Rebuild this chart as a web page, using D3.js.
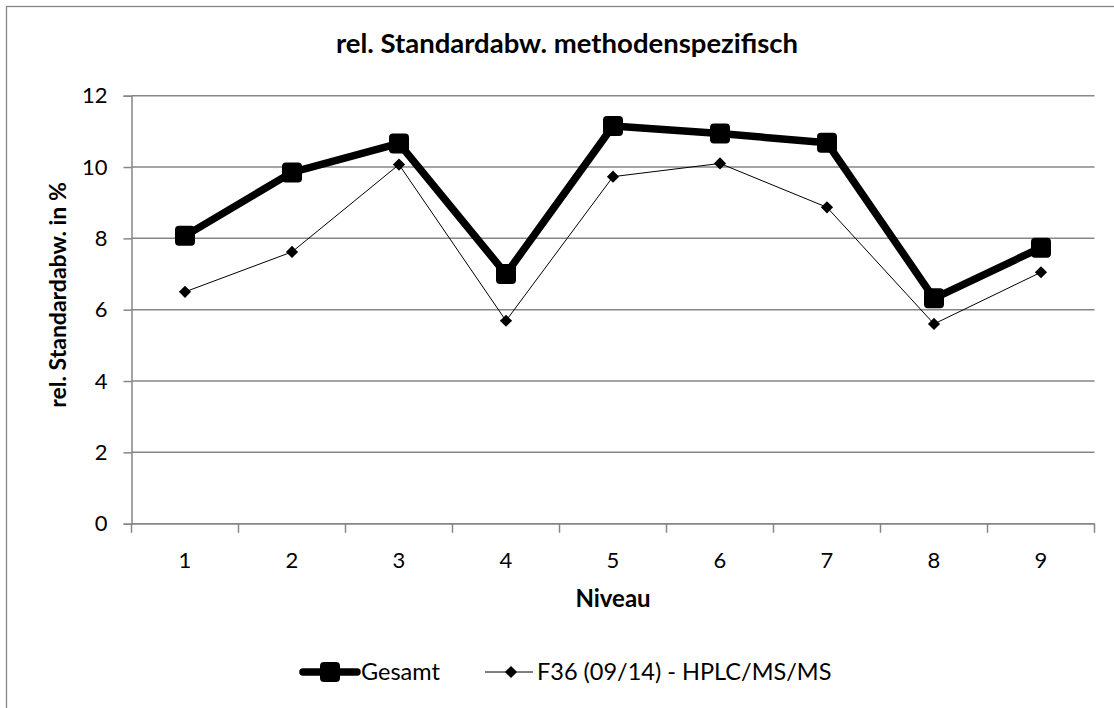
<!DOCTYPE html>
<html>
<head>
<meta charset="utf-8">
<script src="https://cdn.jsdelivr.net/npm/d3@7"></script>
<style>
  body { margin: 0; background: #fff; }
  svg { display: block; font-family: Lato, "Open Sans", sans-serif; }
</style>
</head>
<body>
<div id="chart"></div>
<script>
const levels = ["1", "2", "3", "4", "5", "6", "7", "8", "9"];
const gesamt = [8.07, 9.85, 10.66, 7.0, 11.15, 10.94, 10.68, 6.32, 7.74];
const f36 = [6.5, 7.62, 10.07, 5.69, 9.73, 10.1, 8.87, 5.6, 7.05];
const yTicks = [0, 2, 4, 6, 8, 10, 12];
const seriesNames = ["Gesamt", "F36 (09/14) - HPLC/MS/MS"];

const width = 1114;
const height = 708;
const margin = { top: 95.7, bottom: 184.3, left: 131.5, right: 19.5 };
const gridColor = "#868686";

const svg = d3
  .select("#chart")
  .append("svg")
  .attr("width", width)
  .attr("height", height);

// outer chart frame (runs off the right/bottom edge like the screenshot)
svg
  .append("rect")
  .attr("x", 6.5)
  .attr("y", 6.5)
  .attr("width", 1130)
  .attr("height", 720)
  .attr("fill", "#fff")
  .attr("stroke", gridColor)
  .attr("stroke-width", 1.3);

const x = d3
  .scaleBand()
  .domain(levels)
  .range([margin.left, width - margin.right]);

const y = d3
  .scaleLinear()
  .domain([0, 12])
  .range([height - margin.bottom, margin.top]);

// horizontal gridlines
svg
  .append("g")
  .selectAll("line")
  .data(yTicks)
  .join("line")
  .attr("x1", margin.left)
  .attr("x2", width - margin.right)
  .attr("y1", (d) => y(d))
  .attr("y2", (d) => y(d))
  .attr("stroke", gridColor)
  .attr("stroke-width", 1.5);

// y axis
svg
  .append("g")
  .attr("transform", `translate(${margin.left},0)`)
  .call(d3.axisLeft(y).tickValues(yTicks).tickSize(8).tickPadding(16))
  .call((g) => g.select(".domain").attr("stroke", gridColor).attr("stroke-width", 1.5))
  .call((g) => g.selectAll(".tick line").attr("stroke", gridColor).attr("stroke-width", 1.5))
  .call((g) =>
    g.selectAll(".tick text").attr("font-size", 22).attr("fill", "#000").attr("font-family", "Lato")
  );

// x axis: ticks sit between categories
const xAxisG = svg
  .append("g")
  .attr("transform", `translate(0,${y(0)})`);

xAxisG
  .append("line")
  .attr("x1", margin.left)
  .attr("x2", width - margin.right)
  .attr("stroke", gridColor)
  .attr("stroke-width", 1.5);

const boundaries = levels.map((d) => x(d)).concat([x(levels[levels.length - 1]) + x.bandwidth()]);
xAxisG
  .selectAll(".xt")
  .data(boundaries)
  .join("line")
  .attr("class", "xt")
  .attr("x1", (d) => d)
  .attr("x2", (d) => d)
  .attr("y1", 0)
  .attr("y2", 9)
  .attr("stroke", gridColor)
  .attr("stroke-width", 1.5);

xAxisG
  .selectAll(".xl")
  .data(levels)
  .join("text")
  .attr("class", "xl")
  .attr("x", (d) => x(d) + x.bandwidth() / 2)
  .attr("y", 44)
  .attr("text-anchor", "middle")
  .attr("font-size", 22)
  .text((d) => d);

// titles
svg
  .append("text")
  .attr("x", 567)
  .attr("y", 53)
  .attr("text-anchor", "middle")
  .attr("font-size", 27.5)
  .attr("font-weight", "bold")
  .text("rel. Standardabw. methodenspezifisch");

svg
  .append("text")
  .attr("x", (margin.left + width - margin.right) / 2)
  .attr("y", 607)
  .attr("text-anchor", "middle")
  .attr("font-size", 24)
  .attr("font-weight", "bold")
  .text("Niveau");

svg
  .append("text")
  .attr("transform", "translate(66,295) rotate(-90)")
  .attr("text-anchor", "middle")
  .attr("font-size", 23)
  .attr("font-weight", "bold")
  .text("rel. Standardabw. in %");

const cx = (d, i) => x(levels[i]) + x.bandwidth() / 2;
const line = d3
  .line()
  .x((d, i) => x(levels[i]) + x.bandwidth() / 2)
  .y((d) => y(d));

// F36 series (thin line, diamonds)
svg
  .append("path")
  .datum(f36)
  .attr("d", line)
  .attr("fill", "none")
  .attr("stroke", "#000")
  .attr("stroke-width", 1);

const diamond = d3.symbol().type(d3.symbolDiamond2).size(95);
svg
  .append("g")
  .selectAll("path")
  .data(f36)
  .join("path")
  .attr("transform", (d, i) => `translate(${cx(d, i)},${y(d)})`)
  .attr("d", diamond)
  .attr("fill", "#000");

// Gesamt series (thick line, rounded squares)
svg
  .append("path")
  .datum(gesamt)
  .attr("d", line)
  .attr("fill", "none")
  .attr("stroke", "#000")
  .attr("stroke-width", 7.5)
  .attr("stroke-linejoin", "round");

svg
  .append("g")
  .selectAll("rect")
  .data(gesamt)
  .join("rect")
  .attr("x", (d, i) => cx(d, i) - 10)
  .attr("y", (d) => y(d) - 10)
  .attr("width", 20)
  .attr("height", 20)
  .attr("rx", 4)
  .attr("fill", "#000");

// legend
const legend = svg.append("g").attr("transform", "translate(0,672)");

legend
  .append("line")
  .attr("x1", 303)
  .attr("x2", 357)
  .attr("stroke", "#000")
  .attr("stroke-width", 7.5)
  .attr("stroke-linecap", "round");
legend
  .append("rect")
  .attr("x", 320)
  .attr("y", -10)
  .attr("width", 20)
  .attr("height", 20)
  .attr("rx", 4)
  .attr("fill", "#000");
legend
  .append("text")
  .attr("x", 361)
  .attr("y", 8)
  .attr("font-size", 23.5)
  .text(seriesNames[0]);

legend
  .append("line")
  .attr("x1", 485)
  .attr("x2", 533)
  .attr("stroke", "#000")
  .attr("stroke-width", 1);
legend
  .append("path")
  .attr("transform", "translate(511,0)")
  .attr("d", diamond)
  .attr("fill", "#000");
legend
  .append("text")
  .attr("x", 537)
  .attr("y", 8)
  .attr("font-size", 23.5)
  .text(seriesNames[1]);
</script>
</body>
</html>
